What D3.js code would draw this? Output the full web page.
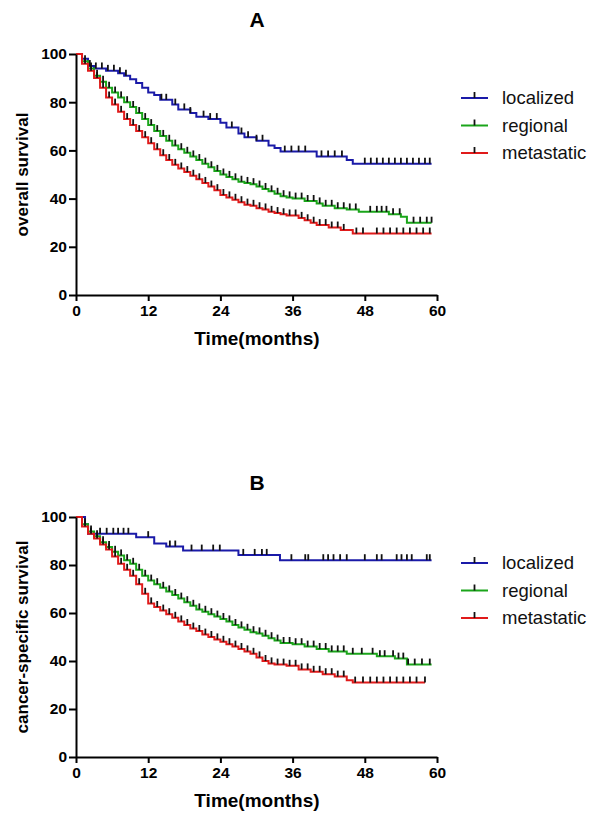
<!DOCTYPE html>
<html>
<head>
<meta charset="utf-8">
<script src="https://cdn.jsdelivr.net/npm/d3@7"></script>
<style>
  body { margin: 0; background: #fff; }
  svg { display: block; }
  text { font-family: "Liberation Sans", Arial, sans-serif; }
</style>
</head>
<body>
<div id="chart"></div>
<script>
const xTicks = [0, 12, 24, 36, 48, 60];
const yTicks = [0, 20, 40, 60, 80, 100];
const groups = ['localized', 'regional', 'metastatic'];
const colors = ['#1a1aa8', '#1aa51a', '#e01a1a'];

// panel A: overall survival, [month, survival after drop]
const aLocalized = [[0,100],[1,98],[2,95],[3,94],[5,93],[7,92],[8,91],[9,89.5],[10,88],[11,86],[12,84],[13,83],[14,81],[16,79],[17,77],[19,75.5],[20,74],[22,73],[24,71.5],[25,69.5],[27,67],[28,65.5],[30,64],[32,62],[33,61],[34,59.5],[40,57.5],[45,56],[46,54.5]];
const aRegional = [[0,100],[1,97],[2,94],[3,91],[4,88.5],[5,86],[6,84],[7,82],[8,80],[9,78],[10,75.5],[11,73],[12,70.5],[13,68],[14,66],[15,64],[16,62],[17,60.5],[18,59],[19,57.5],[20,56],[21,54.5],[22,53],[23,51.5],[24,50],[25,49],[26,48],[27,47],[28,46.5],[29,46],[30,45],[31,44],[32,43],[33,42],[34,41],[35,40.5],[36,40],[38,39],[40,38],[41,37],[43,36],[45,35.5],[47,34.5],[52,33.5],[54,32.5],[55,30]];
const aMetastatic = [[0,100],[1,96],[2,93],[3,90],[4,86],[5,82],[6,79],[7,76],[8,73],[9,70.5],[10,68],[11,65.5],[12,63],[13,60.5],[14,58],[15,56],[16,54],[17,52.5],[18,51],[19,49.5],[20,48],[21,46.5],[22,45],[23,43.5],[24,41.5],[25,40.5],[26,39.5],[27,38.5],[28,37.5],[29,37],[30,36],[31,35.5],[32,34.5],[33,34],[34,33.5],[35,33],[37,32],[38,31],[39,30],[40,29],[42,28],[44,27],[46,25.5]];
const aEnd = [59.1, 59.1, 59.1];
const aCensorLocalized = [2.3,3.3,4.3,5.3,6.3,7.3,8.3,14.2,15,16.5,18,19,21.2,22.3,23.4,25.9,27.5,28.6,30,31,34.7,35.8,37,38.1,40.8,41.9,43,44.2,48,49,50,51,52,53,54,55,56,57,58,58.8];
const aCensorRegional = [1.5,2.5,3.5,4.5,5.5,6.5,7.5,8.5,9.5,10.5,11.5,12.5,13.5,14.5,15.5,16.5,17.5,18.5,19.5,20.5,21.5,22.5,23.5,24.5,25.5,26.5,27.5,28.5,29.5,30.5,31.5,32.5,33.5,34.5,35.5,36.5,37.5,38.5,39.5,40.5,41.5,42.5,43.5,44.5,45.5,46.5,48.9,50,50.8,51.6,52.7,53.8,56.1,57.2,58.3,59.1];
const aCensorMetastatic = [1.5,2.5,3.5,4.5,5.5,6.5,7.5,8.5,9.5,10.5,11.5,12.5,13.5,14.5,15.5,16.5,17.5,18.5,19.5,20.5,21.5,22.5,23.5,24.5,25.5,26.5,27.5,28.5,29.5,30.5,31.5,32.5,33.5,34.5,35.5,36.5,37.5,38.5,39.5,40.5,41.5,42.5,43.5,44.5,46.6,47.7,50,51.1,52.2,53.3,54.4,55.5,56.6,57.7,58.8];

// panel B: cancer-specific survival
const bLocalized = [[0,100],[1.5,97],[2,93],[10,91.6],[13,89],[15,87.7],[17.8,86],[27,84.2],[33.9,82]];
const bRegional = [[0,100],[1,97],[2,94],[3,92],[4,89.5],[5,87.5],[6,85.5],[7,84],[8,82],[9,80.5],[10,78],[11,75.5],[12,73.5],[13,72],[14,70.5],[15,69],[16,67.5],[17,66],[18,64.5],[19,63],[20,61.5],[21,60.5],[22,59.5],[23,58.5],[24,57.5],[25,56.5],[26,55],[27,54],[28,53],[29,52],[30,51.5],[31,50.5],[32,49.5],[33,48.5],[34,47.5],[36,47],[38,46],[40,45],[42,44],[45,43],[50,42],[53,41],[55,38.5]];
const bMetastatic = [[0,100],[1,96],[2,93],[3,91],[4,88.5],[5,86.5],[6,83.5],[7,80.5],[8,78],[9,75.5],[10,72],[11,68],[12,64],[13,62.5],[14,61],[15,59.5],[16,58],[17,56.5],[18,55],[19,53.5],[20,52.5],[21,51],[22,50],[23,49],[24,48],[25,47],[26,46],[27,45],[28,44],[29,43],[30,41.5],[31,40],[32,39],[33,38.5],[35,38],[37,36.5],[39,35.5],[41,34.5],[43,33.5],[45,32],[46,31]];
const bEnd = [59.1, 59.1, 58];
const bCensorLocalized = [2.5,4,5.1,6.2,7,7.9,8.7,12,15.6,16.5,19.2,20.9,22.8,23.9,27.8,29.7,30.9,31.7,35.8,38.1,38.6,41.1,41.9,42.8,43.9,45,48,50,50.8,53.3,54.1,55,55.8,58.3,58.8];
const bCensorRegional = [1.5,2.5,3.5,4.5,5.5,6.5,7.5,8.5,9.5,10.5,11.5,12.5,13.5,14.5,15.5,16.5,17.5,18.5,19.5,20.5,21.5,22.5,23.5,24.5,25.5,26.5,27.5,28.5,29.5,30.5,31.5,32.5,33.5,34.5,35.5,36.5,37.5,38.5,39.5,40.5,41.5,42.5,43.5,44.5,46,47.5,49.3,50.5,51.3,52.7,53.6,54.4,55.2,56.3,57.5,58.8];
const bCensorMetastatic = [1.5,2.5,3.5,4.5,5.5,6.5,7.5,8.5,9.5,10.5,11.5,12.5,13.5,14.5,15.5,16.5,17.5,18.5,19.5,20.5,21.5,22.5,23.5,24.5,25.5,26.5,27.5,28.5,29.5,30.5,31.5,32.5,33.5,34.5,35.5,36.5,37.5,38.5,39.5,40.5,41.5,42.5,43.5,44.5,46.4,47.7,48.9,50,51.1,52.2,53.3,54.4,55.5,56.6,58];

const svg = d3.select('#chart').append('svg')
  .attr('width', 590)
  .attr('height', 815);

function survAt(steps, t) {
  let v = steps[0][1];
  steps.forEach((s) => { if (s[0] <= t) v = s[1]; });
  return v;
}

function drawPanel(p) {
  const x = d3.scaleLinear().domain([0, 60]).range([76, 437]);
  const y = d3.scaleLinear().domain([0, 100]).range([p.bottom, p.top]);
  const g = svg.append('g');

  // title
  g.append('text')
    .attr('x', 257).attr('y', p.top - 27)
    .attr('text-anchor', 'middle')
    .attr('font-size', 21).attr('font-weight', 'bold')
    .text(p.title);

  // curves
  p.series.forEach((steps, i) => {
    const pts = steps.concat([[p.end[i], steps[steps.length - 1][1]]]);
    const line = d3.line().x(d => x(d[0])).y(d => y(d[1])).curve(d3.curveStepAfter);
    g.append('path')
      .attr('d', line(pts))
      .attr('fill', 'none')
      .attr('stroke', colors[i])
      .attr('stroke-width', 2);
    g.selectAll('.c' + i)
      .data(p.censor[i])
      .enter().append('line')
      .attr('x1', t => x(t)).attr('x2', t => x(t))
      .attr('y1', t => y(survAt(steps, t)))
      .attr('y2', t => y(survAt(steps, t)) - 6)
      .attr('stroke', '#111')
      .attr('stroke-width', 1.8);
  });

  // axes
  const xAxis = g.append('g')
    .attr('transform', `translate(0,${p.bottom})`)
    .call(d3.axisBottom(x).tickValues(xTicks).tickSize(6).tickSizeOuter(0).tickPadding(4));
  const yAxis = g.append('g')
    .attr('transform', 'translate(76,0)')
    .call(d3.axisLeft(y).tickValues(yTicks).tickSize(7).tickSizeOuter(0).tickPadding(2));
  [xAxis, yAxis].forEach((a) => {
    a.select('.domain').attr('stroke', '#000').attr('stroke-width', 2);
    a.selectAll('.tick line').attr('stroke', '#000').attr('stroke-width', 2);
    a.selectAll('.tick text')
      .attr('fill', '#000')
      .attr('font-size', 15.5).attr('font-weight', 'bold')
      .attr('font-family', '"Liberation Sans", Arial, sans-serif');
  });

  g.append('text')
    .attr('x', 257).attr('y', p.bottom + 50)
    .attr('text-anchor', 'middle')
    .attr('font-size', 19).attr('font-weight', 'bold')
    .text('Time(months)');

  g.append('text')
    .attr('transform', `translate(28,${(p.top + p.bottom) / 2}) rotate(-90)`)
    .attr('text-anchor', 'middle')
    .attr('font-size', 17).attr('font-weight', 'bold')
    .text(p.ylabel);

  // legend
  groups.forEach((name, i) => {
    const ly = p.legendTop + i * 27.5;
    g.append('line')
      .attr('x1', 461).attr('x2', 488)
      .attr('y1', ly).attr('y2', ly)
      .attr('stroke', colors[i]).attr('stroke-width', 2);
    g.append('line')
      .attr('x1', 474.5).attr('x2', 474.5)
      .attr('y1', ly).attr('y2', ly - 6)
      .attr('stroke', '#111').attr('stroke-width', 1.8);
    g.append('text')
      .attr('x', 502).attr('y', ly + 6)
      .attr('font-size', 18.5).attr('fill', '#111')
      .text(name);
  });
}

drawPanel({
  title: 'A', top: 54, bottom: 295, ylabel: 'overall survival', legendTop: 98,
  series: [aLocalized, aRegional, aMetastatic], end: aEnd,
  censor: [aCensorLocalized, aCensorRegional, aCensorMetastatic]
});
drawPanel({
  title: 'B', top: 517, bottom: 757, ylabel: 'cancer-specific survival', legendTop: 563,
  series: [bLocalized, bRegional, bMetastatic], end: bEnd,
  censor: [bCensorLocalized, bCensorRegional, bCensorMetastatic]
});
</script>
</body>
</html>
